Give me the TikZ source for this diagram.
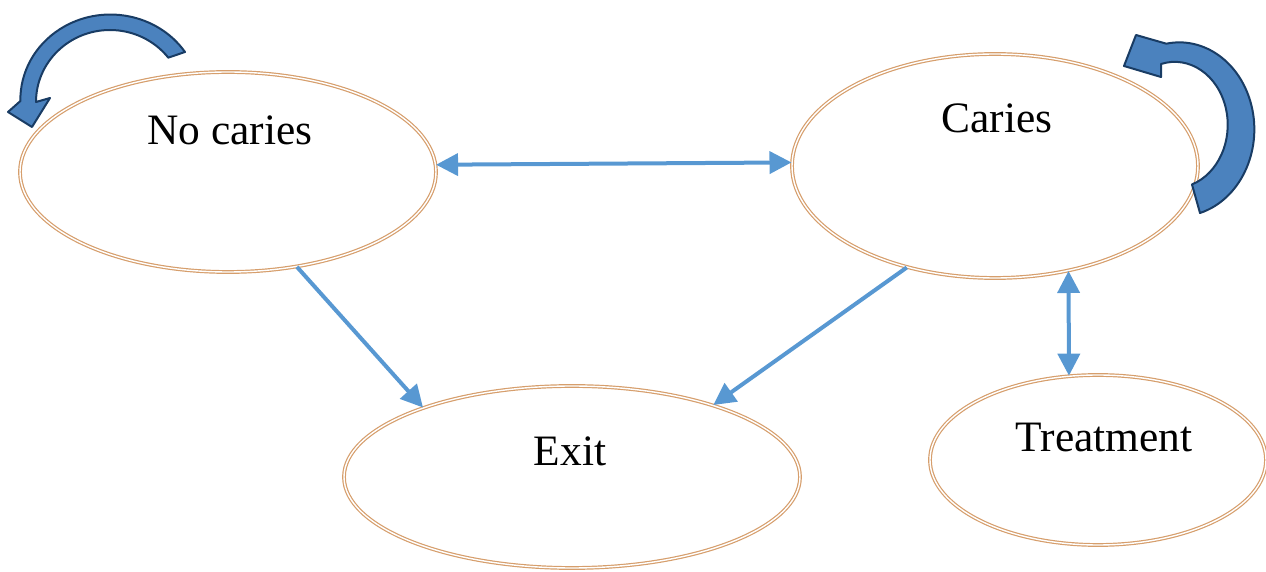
\documentclass[tikz,border=0pt]{standalone}
\usepackage{fontspec}
\setmainfont{Liberation Serif}
\usetikzlibrary{arrows.meta,shapes.geometric}
\definecolor{ringc}{RGB}{214,158,108}
\definecolor{linkc}{RGB}{88,152,210}
\definecolor{bendfill}{RGB}{75,130,190}
\definecolor{bendline}{RGB}{25,60,100}
\begin{document}
\begin{tikzpicture}[x=0.5pt,y=-0.5pt,
  state/.style={ellipse, draw=ringc, double=white, double distance=0.7pt, line width=0.6pt, inner sep=0pt},
  lbl/.style={font=\fontsize{21.7}{26}\selectfont, anchor=base, inner sep=0pt},
  link/.style={draw=linkc, line width=2pt, -{Triangle[length=11pt,width=11pt]}},
  twoway/.style={draw=linkc, line width=2pt, {Triangle[length=11pt,width=11pt]}-{Triangle[length=11pt,width=11pt]}},
  looparrow/.style={fill=bendfill, draw=bendline, line width=1pt, line join=round}]
\useasboundingbox (0,0) rectangle (1266,572);

\node[state, minimum width=208pt, minimum height=100pt] (nc) at (228,172) {};
\node[state, minimum width=203pt, minimum height=112pt] (cr) at (995,166) {};
\node[state, minimum width=228pt, minimum height=91pt] (ex) at (572,477) {};
\node[state, minimum width=168pt, minimum height=85pt] (tr) at (1098,460) {};

\node[lbl] (tnc) at (230,145) {No caries};
\node[lbl] (tcr) at (997,133) {Caries};
\node[lbl] (tex) at (570,466) {Exit};
\node[lbl] (ttr) at (1104,452) {Treatment};

\draw[twoway] (nc.2) -- (cr.179);
\draw[link] (nc.-54) -- (ex.155);
\draw[link] (cr.-131) -- (ex.27);
\draw[twoway] (cr.-55) -- (tr.109);

% curved self-loop arrows
\path[looparrow] (185,52) arc[start angle=-34, end angle=-181, x radius=90, y radius=85]
  -- (8,112) -- (32,127) -- (50,98) -- (36,102)
  arc[start angle=180, end angle=322, x radius=74, y radius=72] -- cycle;
\path[looparrow] (1200,213) arc[start angle=74, end angle=-100, x radius=75, y radius=87]
  -- (1136,35) -- (1124,66) -- (1161,77) -- (1161,64)
  arc[start angle=-105, end angle=71, x radius=53, y radius=63] -- cycle;
\end{tikzpicture}
\end{document}
